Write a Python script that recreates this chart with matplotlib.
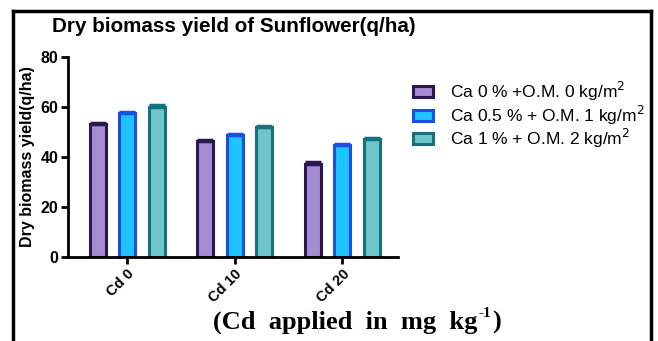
import matplotlib.pyplot as plt
import numpy as np
from matplotlib.lines import Line2D

plt.rcParams['font.family'] = ['Liberation Sans', 'DejaVu Sans']

groups = ['Cd 0', 'Cd 10', 'Cd 20']
series = ['Ca 0 % +O.M. 0 kg/m$^2$',
          'Ca 0.5 % + O.M. 1 kg/m$^2$',
          'Ca 1 % + O.M. 2 kg/m$^2$']
ca0 = [53.2, 46.3, 37.3]
ca05 = [57.5, 48.8, 44.7]
ca1 = [60.1, 52.0, 47.2]
err0 = [0.6, 0.6, 0.6]
err05 = [0.5, 0.5, 0.5]
err1 = [0.6, 0.6, 0.6]

fills = ['#a58bd2', '#1ec3ff', '#6ec6cc']
edges = ['#2b1850', '#1a4fe6', '#15717a']

fig = plt.figure(figsize=(6.58, 3.41), dpi=100)
ax = fig.add_axes([0.1033, 0.2463, 0.5017, 0.5865])

x = np.arange(len(groups))
pitch = 0.274
width = 0.15
for i, (vals, errs) in enumerate([(ca0, err0), (ca05, err05), (ca1, err1)]):
    pos = x + (i - 1) * pitch
    ax.bar(pos, vals, width, color=fills[i], edgecolor=edges[i], linewidth=2.2,
           label=series[i], zorder=2)
    ax.errorbar(pos, vals, yerr=[np.zeros(3), errs], fmt='none', ecolor=edges[i],
                elinewidth=2, capsize=6, capthick=2.5, zorder=3)

ax.set_xlim(-0.55, 2.52)
ax.set_ylim(0, 80)
ax.set_yticks([0, 20, 40, 60, 80])
ax.set_xticks(x)
ax.set_xticklabels(groups, rotation=45, ha='right', rotation_mode='anchor',
                   fontsize=10.5, fontweight='bold')
for lab in ax.get_yticklabels():
    lab.set_fontweight('bold')
    lab.set_fontsize(11.5)
ax.spines['top'].set_visible(False)
ax.spines['right'].set_visible(False)
ax.spines['left'].set_linewidth(2)
ax.spines['bottom'].set_linewidth(2)
ax.tick_params(width=2, length=5, pad=2)
ax.set_ylabel('Dry biomass yield(q/ha)', fontsize=11.5, fontweight='bold', labelpad=4)

fig.text(0.079, 0.921, 'Dry biomass yield of Sunflower(q/ha)', fontsize=14.9,
         fontweight='bold', va='center', ha='left')

# x axis caption with a small superscript
cap = fig.text(0.324, 0.055, '(Cd  applied  in  mg  kg', fontsize=19, fontweight='bold',
               family='Liberation Serif', ha='left', va='center')
fig.canvas.draw()
rend = fig.canvas.get_renderer()
bb = cap.get_window_extent(rend).transformed(fig.transFigure.inverted())
sup = fig.text(bb.x1 + 0.001, 0.08, '-1', fontsize=11, fontweight='bold',
               family='Liberation Serif', ha='left', va='center')
bb2 = sup.get_window_extent(rend).transformed(fig.transFigure.inverted())
fig.text(bb2.x1 + 0.001, 0.055, ')', fontsize=19, fontweight='bold',
         family='Liberation Serif', ha='left', va='center')

leg = ax.legend(loc='upper left', bbox_to_anchor=(1.025, 0.92), frameon=False,
                fontsize=12.5, handlelength=1.15, handleheight=0.6, labelspacing=0.02,
                handletextpad=0.95, borderaxespad=0)

# outer frame (open at the bottom)
fx0, fx1, fy1 = 13 / 658, 651 / 658, 1 - 11 / 341
for xs, ys in [([fx0, fx0], [0, fy1]), ([fx0, fx1], [fy1, fy1]), ([fx1, fx1], [fy1, 0])]:
    fig.add_artist(Line2D(xs, ys, color='black', linewidth=2.5, transform=fig.transFigure))

plt.savefig('out.png', dpi=100)
